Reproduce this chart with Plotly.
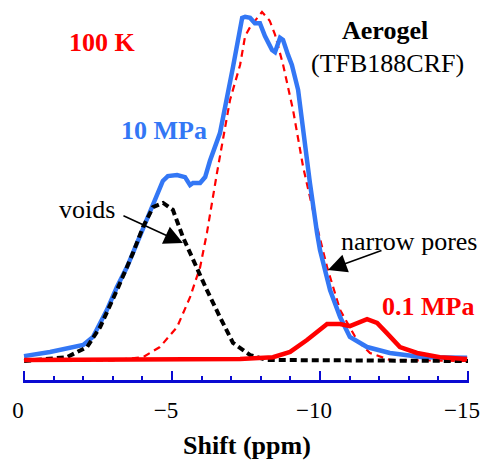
import plotly.graph_objects as go

# ---- data (shift in ppm, intensity in arbitrary units) ----
blue_shift = [0.0, -0.88, -2.0, -2.33, -2.8, -3.14, -3.48, -3.82, -4.36, -4.69, -4.86, -5.17,
              -5.44, -5.61, -5.71, -5.95, -6.12, -6.28, -6.62, -6.86, -7.06, -7.37, -7.47,
              -7.64, -7.80, -7.97, -8.14, -8.38, -8.48, -8.65, -8.75, -8.92, -9.05, -9.26,
              -9.43, -9.66, -9.9, -10.0, -10.34, -10.68, -11.01, -11.59, -12.36, -13.48, -14.97]
blue_int = [1.4, 2.6, 4.6, 6.9, 14.6, 21.2, 26.9, 33.8, 44.1, 51.6, 53.0, 53.3,
            52.7, 50.4, 51.0, 51.0, 52.7, 57.3, 65.3, 74.8, 84.2, 98.3, 98.6,
            98.3, 96.8, 96.8, 93.1, 89.1, 88.5, 92.6, 92.0, 87.7, 84.8, 77.7,
            65.3, 51.0, 36.7, 31.8, 20.3, 12.6, 6.9, 4.0, 2.3, 1.1, 0.9]

fit_shift = [0.0, -3.0, -4.02, -4.59, -5.17, -5.61, -5.95, -6.18, -6.52, -6.96, -7.30, -7.47,
             -7.64, -8.04, -8.30, -8.48, -8.75, -9.09, -9.43, -9.76, -10.24, -10.68, -11.25,
             -11.69, -12.36, -15.0]
fit_int = [0.0, 0.2, 1.1, 4.0, 9.7, 18.3, 26.9, 36.7, 53.9, 74.8, 84.8, 93.1,
           95.7, 100.0, 97.5, 93.5, 85.0, 71.9, 55.6, 43.3, 26.9, 14.6, 6.0,
           2.3, 0.3, 0.0]

voids_shift = [0.0, -1.45, -2.13, -2.57, -3.14, -3.68, -4.02, -4.36, -4.70, -5.03, -5.37,
               -5.71, -6.18, -6.62, -7.06, -7.64, -8.21, -15.0]
voids_int = [0.0, 1.1, 4.0, 9.7, 20.3, 30.9, 38.4, 44.1, 45.3, 43.3, 35.5,
             28.9, 20.3, 12.6, 5.2, 1.7, 0.3, 0.0]

low_shift = [0.0, -7.3, -8.41, -8.99, -9.56, -10.0, -10.24, -10.68, -11.01, -11.59, -11.93,
             -12.26, -12.7, -13.28, -14.05, -14.97]
low_int = [0.3, 0.6, 1.1, 2.6, 6.0, 8.9, 10.6, 10.6, 10.0, 12.0, 10.9,
           8.0, 4.0, 2.3, 1.1, 0.6]

major_ticks = [0, -5, -10, -15]
major_labels = ["0", "\u22125", "\u221210", "\u221215"]
minor_ticks = [-1, -2, -3, -4, -6, -7, -8, -9, -11, -12, -13, -14]
x_range = [0.034, -15.034]
y_range = [-5.44, 100.57]

BLUE = "#3377f5"
RED = "#ff0000"
AXIS = "#0a0ad2"
FONT = "Times New Roman, Liberation Serif, Tinos, serif"

fig = go.Figure()
fig.add_trace(go.Scatter(x=fit_shift, y=fit_int, mode="lines",
                         line=dict(color=RED, width=2.2, dash="7px,5px"), hoverinfo="skip"))
fig.add_trace(go.Scatter(x=blue_shift, y=blue_int, mode="lines",
                         line=dict(color=BLUE, width=4.5), hoverinfo="skip"))
fig.add_trace(go.Scatter(x=voids_shift, y=voids_int, mode="lines",
                         line=dict(color="black", width=4, dash="7px,4px"), hoverinfo="skip"))
fig.add_trace(go.Scatter(x=low_shift, y=low_int, mode="lines", xaxis="x2",
                         line=dict(color=RED, width=4.5), hoverinfo="skip"))

L, R, T, B = 23, 11, 10, 83
W, H = 480, 463
pw, ph = W - L - R, H - T - B


def px(x, y):
    return (x - L) / pw, (H - B - y) / ph


def label(text, x, y, color, size=26, bold=False):
    xp, yp = px(x, y)
    fig.add_annotation(x=xp, y=yp, xref="paper", yref="paper", text=(f"<b>{text}</b>" if bold else text),
                       showarrow=False, xanchor="center", yanchor="middle",
                       font=dict(family=FONT, size=size, color=color))


label("100 K", 102, 43, RED, bold=True)
label("10 MPa", 164, 130, BLUE, bold=True)
label("Aerogel", 385, 31, "black", bold=True)
label("(TFB188CRF)", 387, 64, "black")
label("voids", 87, 209, "black")
label("narrow pores", 409, 241, "black")
label("0.1 MPa", 428, 306, RED, bold=True)
label("Shift (ppm)", 247, 445, "black", bold=True)

# arrows
fig.add_annotation(x=-5.37, y=33.8, xref="x", yref="y", ax=-61, ay=-28, text="",
                   showarrow=True, arrowhead=2, arrowsize=2.5, arrowwidth=1.5, arrowcolor="black")
fig.add_annotation(x=-10.27, y=26.1, xref="x", yref="y", ax=55, ay=-20, text="",
                   showarrow=True, arrowhead=2, arrowsize=2.5, arrowwidth=1.5, arrowcolor="black")

fig.update_layout(
    width=W, height=H, margin=dict(l=L, r=R, t=T, b=B, autoexpand=False),
    paper_bgcolor="white", plot_bgcolor="white", showlegend=False,
    font=dict(family=FONT, color="black"),
    xaxis=dict(range=x_range, showgrid=False, zeroline=False, automargin=False,
               showline=True, linecolor=AXIS, linewidth=2.5,
               tickmode="array", tickvals=major_ticks, ticktext=major_labels,
               ticks="inside", ticklen=9, tickwidth=2, tickcolor=AXIS,
               tickfont=dict(family=FONT, size=23, color="black"),
               ticklabelshift=6, ticklabelstandoff=8),
    xaxis2=dict(range=x_range, overlaying="x", anchor="y", side="bottom", automargin=False,
                showgrid=False, zeroline=False, showline=False,
                tickmode="array", tickvals=minor_ticks,
                ticks="inside", ticklen=4, tickwidth=2, tickcolor=AXIS,
                showticklabels=False),
    yaxis=dict(range=y_range, visible=False),
)

fig.write_html("out.html", config={"displayModeBar": False},
               post_script="document.body.style.margin='0';document.body.style.overflow='hidden';")
